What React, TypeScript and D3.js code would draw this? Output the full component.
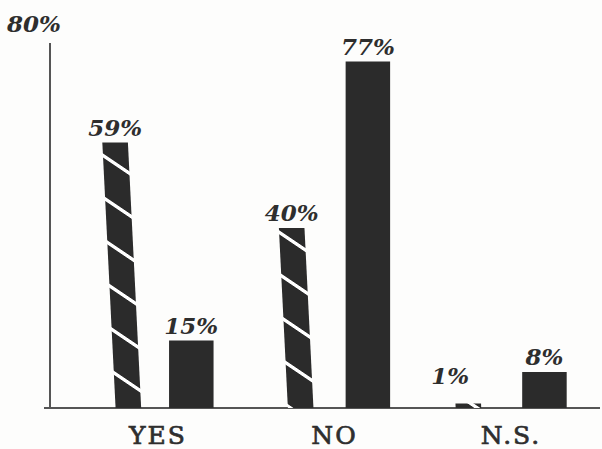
import React from "react";
import * as d3 from "d3";

const categories = ["YES", "NO", "N.S."];
const hatchedValues = [59, 40, 1];
const solidValues = [15, 77, 8];
const valueLabel = (v: number) => `${v}%`;
const yMaxLabel = "80%";

const W = 602;
const H = 449;

export default function App() {
  const baseY = 408;
  const y = d3.scaleLinear().domain([0, 80]).range([baseY, baseY - 80 * 4.5]);
  const x = d3
    .scaleBand<string>()
    .domain(categories)
    .range([67, 602])
    .paddingInner(0.37)
    .paddingOuter(0.2);
  const bw = x.bandwidth();
  const dark = "#2b2b2b";
  const textColor = "#2e2e2e";
  const labelFont = "'DejaVu Serif', serif";

  return (
    <svg
      width={W}
      height={H}
      style={{ position: "absolute", left: 0, top: 0, background: "#fdfdfc" }}
    >
      <defs>
        <pattern
          id="hatch"
          patternUnits="userSpaceOnUse"
          width={10}
          height={42}
          patternTransform="skewY(34)"
        >
          <rect width={10} height={42} fill={dark} />
          <rect y={0} width={10} height={4} fill="#fff" />
        </pattern>
      </defs>

      {/* axes */}
      <line x1={50} x2={50} y1={43} y2={baseY} stroke="#555" strokeWidth={2} />
      <line x1={44} x2={600} y1={baseY} y2={baseY} stroke="#555" strokeWidth={2} />
      <text
        x={7}
        y={32}
        fontFamily={labelFont}
        fontStyle="italic"
        fontWeight="bold"
        fontSize={23}
        fill={textColor}
      >
        {yMaxLabel}
      </text>

      {categories.map((c, i) => {
        const gx = x(c)!;
        const hv = hatchedValues[i];
        const sv = solidValues[i];
        const hx0 = gx;
        const hw = bw * 0.23;
        const hTop = y(hv);
        const slant = (baseY - hTop) * 0.05;
        const hPath = `M${hx0},${hTop} L${hx0 + hw},${hTop} L${hx0 + hw + slant},${baseY} L${hx0 + slant},${baseY} Z`;
        const sx0 = gx + bw * 0.6;
        const sw = bw * 0.4;
        const sTop = y(sv);
        return (
          <g key={c}>
            <path d={hPath} fill="url(#hatch)" />
            <rect x={sx0} y={sTop} width={sw} height={baseY - sTop} fill={dark} />
            <text
              x={hx0 + hw / 2 - (hv < 5 ? 18 : 0)}
              y={hTop - (hv < 5 ? 20 : 7)}
              textAnchor="middle"
              fontFamily={labelFont}
              fontStyle="italic"
              fontWeight="bold"
              fontSize={23}
              fill={textColor}
            >
              {valueLabel(hv)}
            </text>
            <text
              x={sx0 + sw / 2}
              y={sTop - 7}
              textAnchor="middle"
              fontFamily={labelFont}
              fontStyle="italic"
              fontWeight="bold"
              fontSize={23}
              fill={textColor}
            >
              {valueLabel(sv)}
            </text>
            <text
              x={gx + bw / 2}
              y={444}
              textAnchor="middle"
              fontFamily={labelFont}
              fontSize={25}
              letterSpacing={2}
              stroke={textColor}
              strokeWidth={0.7}
              fill={textColor}
            >
              {c}
            </text>
          </g>
        );
      })}
    </svg>
  );
}
